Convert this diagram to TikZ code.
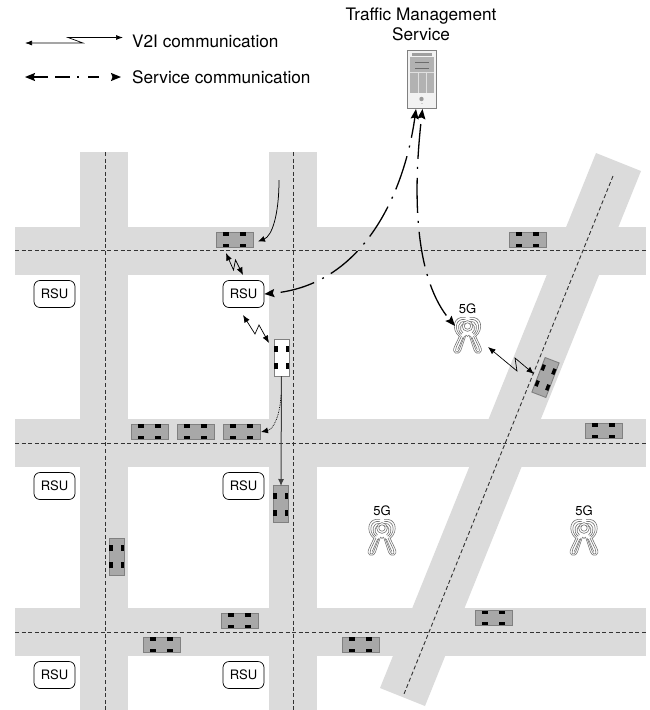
\documentclass[tikz,border=0pt]{standalone}
\usepackage{fontspec}
\setmainfont{TeX Gyre Heros}
\usetikzlibrary{arrows.meta,calc}
\definecolor{roadc}{gray}{0.86}
\definecolor{carc}{gray}{0.66}
\definecolor{towerc}{gray}{0.45}
\tikzset{
  x=1pt,y=-1pt,
  road/.style={fill=roadc,draw=none},
  laneline/.style={draw=black!80,line width=0.9pt,dash pattern=on 4pt off 2.6pt},
  rsubox/.style={draw=black,fill=white,rounded corners=6pt,minimum width=41pt,minimum height=27pt,inner sep=0pt,font=\fontsize{13}{15}\selectfont,line width=0.7pt},
  lbl/.style={inner sep=0pt,font=\fontsize{17.2}{20}\selectfont,align=center},
  small/.style={inner sep=0pt,font=\fontsize{13}{15}\selectfont},
  carbox/.style={draw=gray,minimum width=37pt,minimum height=15pt,inner sep=0pt,line width=0.9pt,transform shape},
  wireless/.style={line width=0.7pt,{Latex[length=7.5pt,width=6pt]}-{Latex[length=7.5pt,width=6pt]}},
  service/.style={line width=1.3pt,{Stealth[length=10pt,width=8pt,inset=1.5pt]}-{Stealth[length=10pt,width=8pt,inset=1.5pt]}},
  move/.style={line width=0.75pt,-{Latex[length=7pt,width=6pt]}},
  pics/car/.style={code={
    \node[carbox,fill=#1] (-body) at (0,0) {};
    \foreach \px in {-8.5,8.5} \foreach \py in {-5.7,5.7}
      \fill[black] (\px-3,\py-1.7) rectangle (\px+3,\py+1.7);
  }},
  pics/car/.default=carc,
  pics/tower/.style={code={
    \begin{scope}[draw=towerc,line width=0.6pt]
      \foreach \s in {1,-1}{
        \begin{scope}[xscale=\s]
          \foreach \k in {0,1,2,3}{
            \draw (-2,-14-2.2*\k) .. controls (-7-2.4*\k,-16-2.2*\k) and (-9-2.6*\k,-8-0.3*\k) .. (-4.5-1.2*\k,-5+1.2*\k);
          }
          \draw (-8,-2) -- (-13,8.5) .. controls (-16.5,15.5) and (-9,18) .. (-6.5,12) -- (-1.5,-3);
          \draw (-6,-2) -- (-11.2,9) .. controls (-13.5,14.5) and (-9.8,15.8) .. (-8.2,11.5) -- (-3,-2);
          \draw (-4.3,-1) -- (-9.8,11.5);
        \end{scope}
      }
      \draw (0,-12) circle (3.2);
      \draw (0,-12) circle (5.4);
      \draw (-1.5,-3) .. controls (0,-1) .. (1.5,-3);
    \end{scope}
  }},
}
\begin{document}
\begin{tikzpicture}
\useasboundingbox (0,0) rectangle (649,710);
% roads
\fill[road] (15,227) rectangle (646,275);
\fill[road] (15,419) rectangle (646,467);
\fill[road] (15,608) rectangle (646,656);
\fill[road] (80,152) rectangle (128,710);
\fill[road] (269,152) rectangle (317,710);
\fill[road] (596,153) -- (641,171) -- (425,706) -- (380,688) -- cycle;
% centre lines
\draw[laneline] (15,250) -- (646,250);
\draw[laneline] (15,443) -- (646,443);
\draw[laneline] (15,632) -- (646,632);
\draw[laneline] (105,152) -- (105,710);
\draw[laneline] (293,152) -- (293,710);
\draw[laneline] (613,176) -- (404,694);
% cars
\pic (c1) at (234.5,239.5) {car};
\pic (c2) at (527.5,239.5) {car};
\pic (c3) at (149.5,431.5) {car};
\pic (c4) at (195.5,431.5) {car};
\pic (c5) at (241.5,431.5) {car};
\pic (c6) at (603.5,430.5) {car};
\pic (c7) at (239.5,620.5) {car};
\pic (c8) at (161.5,644.5) {car};
\pic (c9) at (360.5,644.5) {car};
\pic (c10) at (493.5,618) {car};
\pic[rotate=90] (c11) at (281.5,357.5) {car=white};
\pic[rotate=90] (c12) at (280.5,504) {car};
\pic[rotate=90] (c13) at (116.5,556.5) {car};
\pic[rotate=69] (c14) at (545.5,377.5) {car};
% RSU
\node[rsubox] (r1) at (54.5,294) {RSU};
\node[rsubox] (r2) at (243.5,294) {RSU};
\node[rsubox] (r3) at (54.5,486) {RSU};
\node[rsubox] (r4) at (243.5,486) {RSU};
\node[rsubox] (r5) at (54.5,675) {RSU};
\node[rsubox] (r6) at (243.5,675) {RSU};
% towers
\pic (t1) at (467.5,338) {tower};
\pic (t2) at (382,540) {tower};
\pic (t3) at (584,540) {tower};
\node[small] (g1) at (467.5,309) {5G};
\node[small] (g2) at (382,511) {5G};
\node[small] (g3) at (584,511) {5G};
% server
\node[draw=gray,fill=black!5,line width=0.9pt,minimum width=29pt,minimum height=58pt,inner sep=0pt] (srv) at (421.5,79) {};
\fill[gray!75] (412,52.5) rectangle (432,55.5);
\fill[black!30] (410,57) rectangle (433.5,93);
\foreach \yy in {62,68} \draw[gray!85!black,line width=0.9pt] (415,\yy) -- (429,\yy);
\draw[black!12,line width=0.5pt] (410,72) -- (433.5,72);
\foreach \xx in {418,426} \draw[black!12,line width=0.7pt] (\xx,72) -- (\xx,93);
\fill[gray!80] (421.5,99) circle (2.2);
\fill[gray!40] (420.5,102.5) rectangle (422.5,103.5);
\node[lbl] (tms) at (421,24) {Traffic Management\\Service};
% legend
\coordinate (la) at (25,43);
\coordinate (lb) at (123,37.5);
\draw[line width=0.7pt,{Latex[length=7pt,width=5pt]}-{Latex[length=7pt,width=5pt]}] (la) -- (83,43) -- (68,37.5) -- (lb);
\node[lbl,anchor=west] (l1) at (132,41) {V2I communication};
\coordinate (lc) at (25,77);
\coordinate (ld) at (121,77);
\draw[service,dash pattern=on 15pt off 7pt on 15pt off 7pt on 2pt off 9pt on 11pt off 30pt] (lc) -- (ld);
\node[lbl,anchor=west] (l2) at (132,77) {Service communication};
% wireless links
\draw[wireless] (226,253) -- (233.5,270) -- (235.5,260) -- (243,275);
\draw[wireless] (243,315) -- (255,334) -- (259,325) -- (269,343);
\draw[wireless] (488,347) -- (517,371) -- (515,358) -- (534,374);
% moves
\draw[move] (279,180) .. controls (279,215) and (272,236) .. (258,241.5);
\draw[move,line width=1pt,draw=black!75] (281.5,376) -- (281,486);
\draw[move,densely dotted] (281,395) .. controls (280,415) and (274,429) .. (261,432);
% service links
\draw[service,dash pattern=on 35pt off 8pt on 2pt off 9pt,dash phase=14pt] (416,109) .. controls (405,190) and (365,285) .. (r2.east);
\draw[service,dash pattern=on 35pt off 8pt on 2pt off 9pt,dash phase=47pt] (422.5,109) .. controls (412,200) and (416,280) .. (455,326);
\end{tikzpicture}
\end{document}
